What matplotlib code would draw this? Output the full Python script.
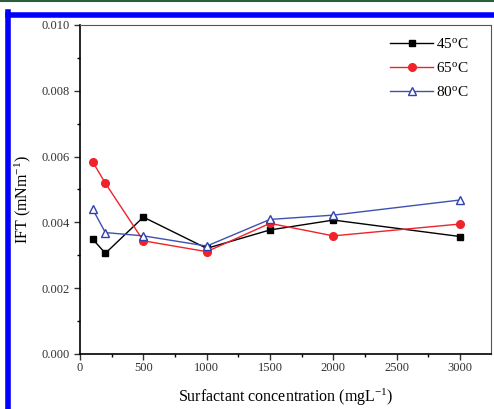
import matplotlib.pyplot as plt
from matplotlib.lines import Line2D
from matplotlib.ticker import MultipleLocator

conc = [100, 200, 500, 1000, 1500, 2000, 3000]
ift_45 = [0.00349, 0.00306, 0.00416, 0.00321, 0.00377, 0.00407, 0.00357]
ift_65 = [0.00584, 0.00519, 0.00344, 0.00311, 0.00397, 0.00359, 0.00395]
ift_80 = [0.00440, 0.00369, 0.00359, 0.00328, 0.00409, 0.00422, 0.00468]

plt.rcParams['font.family'] = ['Liberation Serif', 'DejaVu Serif']
plt.rcParams['mathtext.fontset'] = 'custom'
plt.rcParams['mathtext.rm'] = 'Liberation Serif'
plt.rcParams['mathtext.it'] = 'Liberation Serif:italic'

fig = plt.figure(figsize=(4.94, 4.09), dpi=100)
ax = fig.add_axes([0.162, 0.1345, 0.832, 0.8045])

ax.plot(conc, ift_45, color='black', lw=1.0, marker='s', ms=4.5,
        label='45$^{\\rm o}$C')
ax.plot(conc, ift_65, color='#f0222a', lw=1.0, marker='o', ms=5.5,
        label='65$^{\\rm o}$C')
ax.plot(conc, ift_80, color='#4050b0', lw=1.0, marker='^', ms=6,
        mfc='white', mec='#3040b0', label='80$^{\\rm o}$C')

ax.set_xlim(0, 3245)
ax.set_ylim(0, 0.010)
ax.xaxis.set_major_locator(MultipleLocator(500))
ax.xaxis.set_minor_locator(MultipleLocator(250))
ax.yaxis.set_major_locator(MultipleLocator(0.002))
ax.yaxis.set_minor_locator(MultipleLocator(0.001))
ax.yaxis.set_major_formatter(plt.FormatStrFormatter('%.3f'))

ax.tick_params(which='major', direction='out', length=4, width=1.0,
               labelsize=9, colors='#333333')
ax.tick_params(which='minor', direction='out', length=2.5, width=1.0)
ax.tick_params(axis='x', pad=2)

for side in ('left', 'bottom'):
    ax.spines[side].set_linewidth(1.2)
for side in ('top', 'right'):
    ax.spines[side].set_linewidth(0.8)
    ax.spines[side].set_color('#555555')

ax.set_xlabel('Surfactant concentration (mgL$^{-1}$)', fontsize=11.5,
              labelpad=9)
ax.set_ylabel('IFT (mNm$^{-1}$)', fontsize=11.5)
ax.yaxis.set_label_coords(-0.114, 0.47)

ax.legend(loc='upper right', frameon=False, fontsize=11, handlelength=2.8,
          handletextpad=0.2, labelspacing=0.65, borderaxespad=0.4,
          bbox_to_anchor=(0.975, 1.0))

# page frame
fig.add_artist(Line2D([0, 1], [0.9965, 0.9965], color='#2d5e3a', lw=1.5))
fig.add_artist(Line2D([0.0172, 1], [0.9645, 0.9645], color='#0000ff', lw=4))
fig.add_artist(Line2D([0.0172, 0.0172], [0, 0.97], color='#0000ff', lw=4))

fig.savefig('out.png', dpi=100)
